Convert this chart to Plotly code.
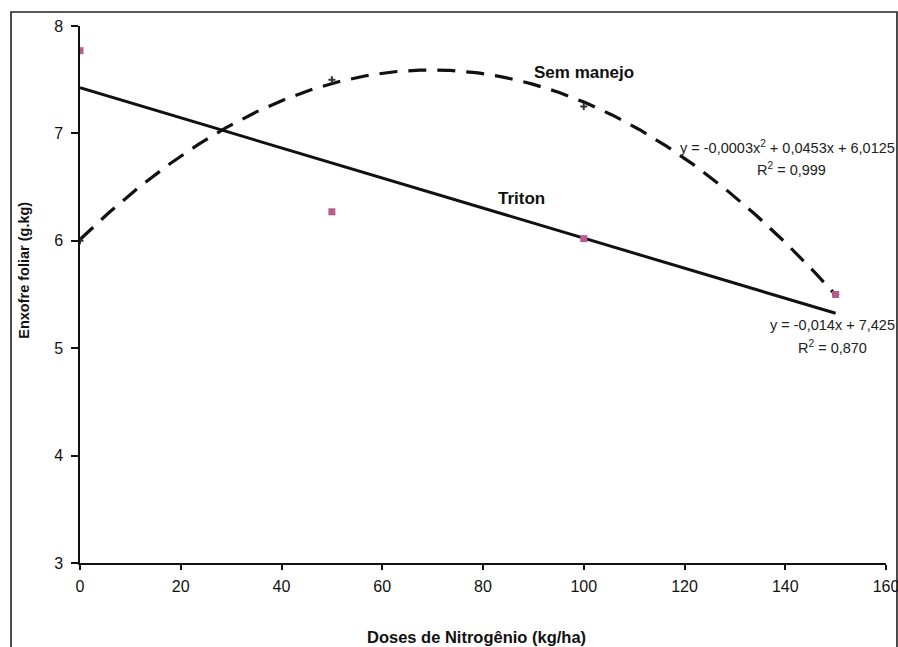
import numpy as np
import plotly.graph_objects as go

# Nitrogen doses (kg/ha) and leaf sulphur (g.kg)
doses = [0, 50, 100, 150]
triton = [7.77, 6.27, 6.02, 5.50]
sem_manejo = [6.00, 7.50, 7.25, 5.50]

# Regression coefficients
lin_slope, lin_intercept, lin_r2 = -0.014, 7.425, 0.870
quad_a, quad_b, quad_c, quad_r2 = -0.000325, 0.0453, 6.0125, 0.999

x_ticks = [0, 20, 40, 60, 80, 100, 120, 140, 160]
y_ticks = [3, 4, 5, 6, 7, 8]

FONT = "Liberation Sans, Arial, sans-serif"
PINK = "#b85c8e"


def br(v, nd):
    return f"{v:.{nd}f}".replace(".", ",")


xs = np.linspace(0, 150, 301)
quad_curve = quad_a * xs ** 2 + quad_b * xs + quad_c
lin_curve = lin_slope * xs + lin_intercept

fig = go.Figure()

# fitted curves
fig.add_trace(go.Scatter(x=xs, y=quad_curve, mode="lines",
                         line=dict(color="#111111", width=3.2, dash="18px,11px"),
                         hoverinfo="skip", showlegend=False))
fig.add_trace(go.Scatter(x=xs, y=lin_curve, mode="lines",
                         line=dict(color="#111111", width=3),
                         hoverinfo="skip", showlegend=False))

# observed values
fig.add_trace(go.Scatter(x=doses, y=sem_manejo, mode="markers", name="Sem manejo",
                         marker=dict(symbol="cross-thin", size=5,
                                     line=dict(color="#333333", width=2)),
                         showlegend=False))
fig.add_trace(go.Scatter(x=doses, y=triton, mode="markers", name="Triton",
                         marker=dict(symbol="square", size=7, color=PINK),
                         showlegend=False))

ann_font = dict(family=FONT, size=14.5, color="#222222")
label_font = dict(family=FONT, size=17, color="#111111")
quad_label = (f"y = {br(quad_a, 4)}x<sup>2</sup> + {br(quad_b, 4)}x + {br(quad_c, 4)}")
lin_label = f"y = {br(lin_slope, 3)}x + {br(lin_intercept, 3)}"

annotations = [
    dict(x=100.0, y=7.57, text="<b>Sem manejo</b>", showarrow=False,
         xanchor="center", yanchor="middle", font=label_font),
    dict(x=87.7, y=6.39, text="<b>Triton</b>", showarrow=False,
         xanchor="center", yanchor="middle", font=label_font),
    dict(xref="paper", yref="paper", x=1.0136, y=0.774, text=quad_label,
         showarrow=False, xanchor="right", yanchor="middle", font=ann_font),
    dict(xref="paper", yref="paper", x=0.883, y=0.734,
         text=f"R<sup>2</sup> = {br(quad_r2, 3)}", showarrow=False,
         xanchor="center", yanchor="middle", font=ann_font),
    dict(xref="paper", yref="paper", x=1.0136, y=0.444, text=lin_label,
         showarrow=False, xanchor="right", yanchor="middle", font=ann_font),
    dict(xref="paper", yref="paper", x=0.934, y=0.402,
         text=f"R<sup>2</sup> = {br(lin_r2, 3)}", showarrow=False,
         xanchor="center", yanchor="middle", font=ann_font),
    dict(xref="paper", yref="paper", x=0.492, y=-0.137, xanchor="center",
         yanchor="middle", text="<b>Doses de Nitrogênio (kg/ha)</b>",
         showarrow=False, font=dict(family=FONT, size=16.5, color="#111111")),
    dict(xref="paper", yref="paper", x=-0.0695, y=0.546, textangle=-90,
         xanchor="center", yanchor="middle",
         text="<b>Enxofre foliar (g.kg)</b>", showarrow=False,
         font=dict(family=FONT, size=14.5, color="#111111")),
]

# outer frame of the figure
shapes = [
    dict(type="rect", xref="paper", yref="paper",
         x0=-0.0856, x1=1.0136, y0=-0.17, y1=1.026,
         line=dict(color="#222222", width=1.6), layer="below"),
]

fig.update_layout(
    width=898, height=647,
    margin=dict(l=80, r=12, t=26, b=84),
    paper_bgcolor="white", plot_bgcolor="white",
    font=dict(family=FONT, size=16, color="#111111"),
    annotations=annotations,
    shapes=shapes,
    showlegend=False,
)
fig.update_xaxes(range=[0, 160], tickvals=x_ticks, ticks="outside", ticklen=5,
                 tickwidth=1.5, tickcolor="#111111", showline=True,
                 linecolor="#111111", linewidth=1.5, showgrid=False,
                 zeroline=False, tickfont=dict(size=16), automargin=False,
                 ticklabelstandoff=3, ticklabeloverflow="allow")
fig.update_yaxes(range=[3, 8], tickvals=y_ticks, ticks="outside", ticklen=7,
                 tickwidth=1.5, tickcolor="#111111", showline=True,
                 linecolor="#111111", linewidth=1.5, showgrid=False,
                 zeroline=False, tickfont=dict(size=16), automargin=False,
                 ticklabelstandoff=5)

fig.write_html("out.html")
